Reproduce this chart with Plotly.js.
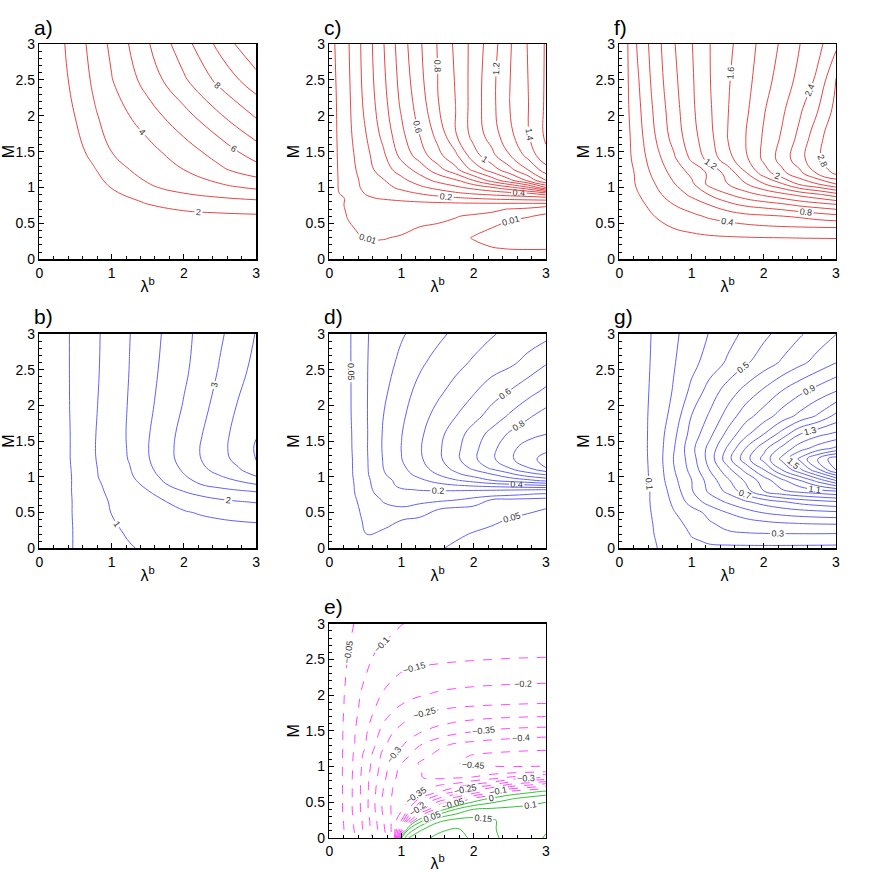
<!DOCTYPE html>
<html>
<head>
<meta charset="utf-8">
<script src="https://cdn.plot.ly/plotly-3.0.1.min.js"></script>
<style>
  html, body { margin: 0; padding: 0; background: #fff; }
  #graph { width: 872px; height: 872px; }
</style>
</head>
<body>
<div id="graph"></div>
<script>
// values, rows = M, columns = lambda^b

// a) red, 2..10
var lamA = [0, 0.25, 0.5, 0.75, 1, 1.5, 2, 2.5, 3];
var mA = [0, 0.25, 0.5, 0.65, 0.8, 1.0, 1.25, 1.5, 2, 2.5, 3];
var zA = [
  [0, 0, 0, 0, 0, 0, 0, 0, 0],
  [0, 0.12, 0.24, 0.34, 0.42, 0.55, 0.62, 0.66, 0.68],
  [0, 0.25, 0.5, 0.72, 0.9, 1.15, 1.3, 1.37, 1.4],
  [0, 0.33, 0.65, 0.95, 1.2, 1.6, 1.9, 2.02, 2.1],
  [0, 0.4, 0.8, 1.15, 1.5, 2.1, 2.45, 2.65, 2.8],
  [0, 0.55, 1.05, 1.55, 2.03, 2.85, 3.35, 3.75, 4.14],
  [0, 0.7, 1.3, 1.9, 2.6, 3.4, 4.0, 4.83, 5.6],
  [0.2, 0.9, 1.62, 2.33, 3.0, 3.67, 4.55, 5.45, 6.53],
  [0.43, 1.25, 2.03, 2.85, 3.45, 4.55, 5.65, 6.9, 8.1],
  [0.7, 1.5, 2.33, 3.15, 3.95, 5.4, 6.85, 8.3, 9.6],
  [0.8, 1.65, 2.5, 3.35, 4.2, 5.9, 7.6, 9.3, 11]
];

// b) blue, 0.5..4
var lamB = [0, 0.25, 0.5, 0.75, 1, 1.25, 1.5, 1.75, 2, 2.25, 2.5, 2.75, 3];
var mB = [0, 0.25, 0.5, 0.65, 0.8, 0.9, 1.0, 1.1, 1.25, 1.4, 1.6, 2.0, 2.5, 3.0];
var zB = [
  [0, 0.27, 0.54, 0.72, 0.85, 0.97, 1.06, 1.12, 1.16, 1.2, 1.22, 1.24, 1.25],
  [0, 0.27, 0.54, 0.75, 0.93, 1.06, 1.14, 1.2, 1.25, 1.29, 1.32, 1.34, 1.36],
  [0, 0.28, 0.55, 0.78, 1.01, 1.13, 1.24, 1.35, 1.46, 1.54, 1.6, 1.65, 1.68],
  [0, 0.28, 0.55, 0.82, 1.04, 1.2, 1.35, 1.49, 1.65, 1.78, 1.89, 1.97, 2.03],
  [0, 0.28, 0.56, 0.86, 1.1, 1.29, 1.48, 1.74, 2.01, 2.19, 2.33, 2.44, 2.53],
  [0, 0.28, 0.56, 0.89, 1.14, 1.34, 1.62, 1.99, 2.26, 2.53, 2.7, 2.85, 3.02],
  [0, 0.28, 0.56, 0.93, 1.19, 1.42, 1.77, 2.14, 2.45, 2.71, 2.95, 3.2, 3.47],
  [0, 0.28, 0.57, 0.94, 1.21, 1.47, 1.88, 2.24, 2.56, 2.88, 3.2, 3.44, 3.77],
  [0, 0.28, 0.59, 0.96, 1.25, 1.53, 1.96, 2.33, 2.67, 3.02, 3.32, 3.64, 4.03],
  [0, 0.28, 0.59, 0.97, 1.25, 1.55, 1.98, 2.34, 2.69, 3.04, 3.36, 3.68, 4.05],
  [0, 0.28, 0.59, 0.96, 1.26, 1.56, 1.96, 2.31, 2.66, 2.99, 3.32, 3.66, 3.97],
  [0, 0.29, 0.6, 0.93, 1.24, 1.54, 1.89, 2.21, 2.53, 2.86, 3.19, 3.53, 3.85],
  [0, 0.3, 0.6, 0.9, 1.21, 1.51, 1.82, 2.13, 2.41, 2.72, 3.04, 3.34, 3.65],
  [0, 0.3, 0.6, 0.89, 1.19, 1.49, 1.78, 2.07, 2.36, 2.65, 2.93, 3.22, 3.52]
];

// c), d), f), g) share this lambda grid
var lamFine = [0, 0.1, 0.25, 0.5, 0.75, 1, 1.25, 1.5, 1.75, 2, 2.25, 2.5, 2.75, 3];

// c) red, 0.01 and 0.1..1.5
var mC = [0, 0.15, 0.3, 0.45, 0.6, 0.7, 0.74, 0.78, 0.85, 0.92, 1.0, 1.1, 1.25, 1.45, 1.75, 2.2, 3.0];
var zC = [
  [0, 0, 0.001, 0.002, 0.002, 0.002, 0.002, 0.003, 0.003, 0.004, 0.005, 0.005, 0.005, 0.005],
  [0, 0.001, 0.003, 0.0055, 0.006, 0.0055, 0.005, 0.005, 0.006, 0.008, 0.0095, 0.0103, 0.0105, 0.0104],
  [0, 0.001, 0.005, 0.0105, 0.0108, 0.0085, 0.007, 0.0065, 0.0075, 0.0105, 0.013, 0.015, 0.016, 0.017],
  [0, 0.002, 0.008, 0.014, 0.016, 0.014, 0.0099, 0.008, 0.0068, 0.0075, 0.0097, 0.0125, 0.0145, 0.016],
  [0, 0.002, 0.0105, 0.02, 0.024, 0.023, 0.019, 0.014, 0.0106, 0.008, 0.0075, 0.0082, 0.0095, 0.0115],
  [0, 0.003, 0.012, 0.025, 0.03, 0.032, 0.03, 0.027, 0.022, 0.016, 0.012, 0.0095, 0.008, 0.007],
  [0, 0.003, 0.013, 0.03, 0.04, 0.045, 0.045, 0.042, 0.036, 0.03, 0.024, 0.018, 0.014, 0.0105],
  [0, 0.003, 0.013, 0.035, 0.055, 0.07, 0.08, 0.087, 0.092, 0.096, 0.098, 0.099, 0.0995, 0.101],
  [0, 0.002, 0.013, 0.085, 0.11, 0.13, 0.148, 0.164, 0.183, 0.201, 0.218, 0.232, 0.244, 0.255],
  [0, 0.003, 0.03, 0.105, 0.139, 0.171, 0.205, 0.243, 0.283, 0.314, 0.341, 0.367, 0.392, 0.47],
  [0, 0.004, 0.044, 0.122, 0.17, 0.22, 0.277, 0.329, 0.378, 0.43, 0.49, 0.571, 0.677, 0.9],
  [0, 0.004, 0.046, 0.131, 0.193, 0.271, 0.353, 0.426, 0.486, 0.602, 0.741, 0.875, 1.021, 1.201],
  [0, 0.005, 0.0505, 0.154, 0.252, 0.348, 0.439, 0.557, 0.673, 0.831, 0.95, 1.071, 1.202, 1.36],
  [0, 0.006, 0.059, 0.169, 0.283, 0.431, 0.546, 0.669, 0.781, 0.962, 1.074, 1.198, 1.333, 1.48],
  [0, 0.008, 0.0685, 0.195, 0.331, 0.478, 0.603, 0.733, 0.895, 1.04, 1.148, 1.278, 1.391, 1.52],
  [0, 0.0102, 0.074, 0.224, 0.367, 0.521, 0.648, 0.794, 0.902, 1.045, 1.172, 1.302, 1.396, 1.515],
  [0, 0.013, 0.085, 0.24, 0.395, 0.555, 0.685, 0.805, 0.92, 1.035, 1.155, 1.29, 1.405, 1.51]
];

// d) blue, 0.05 and 0.1..1
var mD = [0, 0.2, 0.4, 0.55, 0.68, 0.76, 0.82, 0.88, 0.95, 1.03, 1.12, 1.25, 1.4, 1.6, 1.85, 2.2, 2.6, 3.0];
var zD = [
  [0, 0.005, 0.012, 0.02, 0.025, 0.03, 0.037, 0.047, 0.055, 0.062, 0.068, 0.072, 0.075, 0.077],
  [0, 0.009, 0.022, 0.051, 0.045, 0.038, 0.035, 0.038, 0.045, 0.052, 0.058, 0.064, 0.068, 0.07],
  [0, 0.011, 0.03, 0.055, 0.06, 0.0505, 0.042, 0.036, 0.035, 0.038, 0.044, 0.052, 0.058, 0.062],
  [0, 0.012, 0.031, 0.06, 0.088, 0.095, 0.078, 0.051, 0.04, 0.036, 0.036, 0.039, 0.044, 0.0505],
  [0, 0.013, 0.033, 0.066, 0.105, 0.116, 0.117, 0.112, 0.103, 0.08, 0.048, 0.042, 0.038, 0.035],
  [0, 0.014, 0.034, 0.072, 0.125, 0.16, 0.17, 0.165, 0.155, 0.14, 0.13, 0.118, 0.105, 0.09],
  [0, 0.014, 0.035, 0.074, 0.14, 0.19, 0.205, 0.212, 0.213, 0.212, 0.21, 0.207, 0.203, 0.199],
  [0, 0.014, 0.035, 0.075, 0.152, 0.225, 0.25, 0.268, 0.293, 0.315, 0.335, 0.355, 0.377, 0.399],
  [0, 0.014, 0.036, 0.077, 0.16, 0.24, 0.278, 0.335, 0.39, 0.437, 0.498, 0.54, 0.575, 0.63],
  [0, 0.015, 0.037, 0.08, 0.19, 0.255, 0.329, 0.398, 0.476, 0.535, 0.589, 0.667, 0.75, 0.802],
  [0, 0.015, 0.037, 0.082, 0.2, 0.278, 0.358, 0.443, 0.531, 0.62, 0.716, 0.798, 0.89, 0.998],
  [0, 0.015, 0.037, 0.083, 0.206, 0.298, 0.383, 0.474, 0.575, 0.68, 0.78, 0.88, 0.97, 1.03],
  [0, 0.015, 0.038, 0.085, 0.211, 0.302, 0.39, 0.479, 0.572, 0.672, 0.772, 0.869, 0.95, 0.98],
  [0, 0.016, 0.039, 0.084, 0.209, 0.297, 0.38, 0.466, 0.554, 0.644, 0.733, 0.814, 0.862, 0.898],
  [0, 0.016, 0.04, 0.087, 0.2, 0.283, 0.36, 0.431, 0.498, 0.568, 0.639, 0.715, 0.786, 0.84],
  [0, 0.016, 0.04, 0.089, 0.18, 0.261, 0.326, 0.379, 0.433, 0.489, 0.556, 0.603, 0.662, 0.72],
  [0, 0.016, 0.04, 0.091, 0.157, 0.224, 0.283, 0.33, 0.371, 0.413, 0.445, 0.479, 0.53, 0.59],
  [0, 0.016, 0.04, 0.091, 0.141, 0.19, 0.235, 0.279, 0.319, 0.356, 0.393, 0.42, 0.445, 0.47]
];

// f) red, 0.2..2.8
var mF = [0, 0.15, 0.3, 0.45, 0.6, 0.75, 0.9, 1.05, 1.2, 1.4, 1.7, 2.1, 2.5, 3.0];
var zF = [
  [0, 0, 0, 0, 0, 0, 0, 0, 0, 0, 0, 0, 0, 0],
  [0, 0.01, 0.025, 0.045, 0.06, 0.072, 0.08, 0.086, 0.09, 0.093, 0.095, 0.097, 0.098, 0.1],
  [0, 0.02, 0.05, 0.095, 0.13, 0.155, 0.173, 0.183, 0.19, 0.196, 0.199, 0.203, 0.205, 0.207],
  [0, 0.03, 0.075, 0.145, 0.21, 0.25, 0.29, 0.32, 0.35, 0.375, 0.39, 0.399, 0.405, 0.41],
  [0, 0.04, 0.1, 0.204, 0.26, 0.352, 0.43, 0.484, 0.538, 0.565, 0.593, 0.63, 0.69, 0.74],
  [0, 0.057, 0.143, 0.261, 0.39, 0.49, 0.592, 0.713, 0.818, 0.87, 0.93, 1.02, 1.08, 1.14],
  [0, 0.07, 0.182, 0.345, 0.495, 0.635, 0.806, 0.979, 1.113, 1.23, 1.335, 1.45, 1.56, 1.7],
  [0, 0.09, 0.228, 0.402, 0.585, 0.753, 1.066, 1.198, 1.386, 1.587, 1.78, 2.04, 2.198, 2.402],
  [0, 0.105, 0.24, 0.464, 0.659, 0.844, 1.04, 1.27, 1.58, 1.89, 2.14, 2.35, 2.63, 2.84],
  [0, 0.133, 0.283, 0.522, 0.757, 1.033, 1.274, 1.523, 1.76, 2.044, 2.28, 2.527, 2.77, 2.93],
  [0, 0.143, 0.31, 0.598, 0.87, 1.12, 1.342, 1.602, 1.798, 2.024, 2.224, 2.459, 2.737, 2.95],
  [0, 0.16, 0.343, 0.647, 0.914, 1.16, 1.375, 1.591, 1.76, 1.981, 2.158, 2.365, 2.59, 2.86],
  [0, 0.167, 0.373, 0.686, 0.948, 1.173, 1.391, 1.578, 1.733, 1.917, 2.094, 2.257, 2.444, 2.81],
  [0, 0.17, 0.417, 0.713, 0.98, 1.19, 1.395, 1.55, 1.71, 1.867, 2.033, 2.198, 2.343, 2.55]
];

// g) blue, 0.1..2.0
var mG = [0, 0.1, 0.2, 0.35, 0.5, 0.65, 0.8, 0.95, 1.1, 1.25, 1.4, 1.6, 1.85, 2.2, 2.6, 3.0];
var zG = [
  [0, 0.018, 0.045, 0.095, 0.14, 0.18, 0.19, 0.19, 0.19, 0.19, 0.19, 0.19, 0.19, 0.19],
  [0, 0.019, 0.048, 0.099, 0.15, 0.192, 0.207, 0.212, 0.214, 0.215, 0.215, 0.214, 0.213, 0.212],
  [0, 0.02, 0.051, 0.104, 0.155, 0.205, 0.24, 0.285, 0.292, 0.295, 0.296, 0.297, 0.297, 0.295],
  [0, 0.021, 0.054, 0.108, 0.17, 0.227, 0.29, 0.33, 0.355, 0.375, 0.393, 0.402, 0.407, 0.41],
  [0, 0.022, 0.056, 0.114, 0.193, 0.257, 0.329, 0.402, 0.456, 0.505, 0.532, 0.553, 0.568, 0.58],
  [0, 0.022, 0.056, 0.119, 0.217, 0.34, 0.44, 0.514, 0.586, 0.64, 0.69, 0.733, 0.765, 0.79],
  [0, 0.022, 0.056, 0.12, 0.24, 0.39, 0.52, 0.625, 0.76, 0.898, 0.983, 1.03, 1.064, 1.098],
  [0, 0.023, 0.057, 0.125, 0.27, 0.398, 0.544, 0.683, 0.816, 0.95, 1.075, 1.198, 1.34, 1.502],
  [0, 0.023, 0.058, 0.128, 0.29, 0.433, 0.602, 0.767, 0.933, 1.098, 1.302, 1.477, 1.683, 1.91],
  [0, 0.024, 0.06, 0.13, 0.302, 0.45, 0.642, 0.86, 1.058, 1.233, 1.424, 1.623, 1.814, 1.97],
  [0, 0.024, 0.06, 0.132, 0.289, 0.47, 0.633, 0.815, 1.002, 1.167, 1.326, 1.455, 1.545, 1.62],
  [0, 0.024, 0.06, 0.131, 0.27, 0.437, 0.572, 0.729, 0.872, 0.998, 1.138, 1.298, 1.371, 1.42],
  [0, 0.024, 0.06, 0.129, 0.235, 0.402, 0.514, 0.64, 0.761, 0.85, 0.946, 1.03, 1.115, 1.23],
  [0, 0.023, 0.058, 0.124, 0.207, 0.323, 0.443, 0.546, 0.634, 0.717, 0.802, 0.876, 0.94, 0.998],
  [0, 0.023, 0.057, 0.118, 0.191, 0.269, 0.343, 0.414, 0.486, 0.55, 0.612, 0.675, 0.737, 0.798],
  [0, 0.022, 0.056, 0.114, 0.18, 0.244, 0.305, 0.364, 0.422, 0.478, 0.533, 0.589, 0.644, 0.698]
];

// e) magenta dashed negatives, green positives
var lamE = [0, 0.1, 0.25, 0.5, 0.75, 0.9, 1.0, 1.1, 1.25, 1.5, 1.75, 2, 2.25, 2.5, 2.75, 3];
var mE = [0, 0.12, 0.25, 0.4, 0.55, 0.65, 0.75, 0.85, 0.95, 1.05, 1.15, 1.3, 1.45, 1.6, 1.8, 2.0, 2.3, 2.6, 3.0];
var zE = [
  [0, -0.022, -0.058, -0.15, -0.275, -0.37, 0.052, 0.152, 0.185, 0.21, 0.21, 0.195, 0.16, 0.135, 0.127, 0.155],
  [0, -0.023, -0.062, -0.165, -0.29, -0.375, -0.148, 0.052, 0.14, 0.19, 0.205, 0.185, 0.155, 0.135, 0.135, 0.145],
  [0, -0.024, -0.065, -0.17, -0.298, -0.37, -0.302, -0.13, 0.02, 0.135, 0.162, 0.165, 0.153, 0.14, 0.135, 0.135],
  [0, -0.025, -0.07, -0.18, -0.31, -0.368, -0.36, -0.298, -0.17, -0.035, 0.052, 0.102, 0.11, 0.115, 0.118, 0.12],
  [0, -0.025, -0.07, -0.18, -0.31, -0.365, -0.37, -0.36, -0.298, -0.198, -0.125, -0.04, 0.012, 0.045, 0.07, 0.09],
  [0, -0.025, -0.07, -0.18, -0.303, -0.36, -0.365, -0.362, -0.357, -0.31, -0.248, -0.187, -0.117, -0.043, -0.017, 0.01],
  [0, -0.025, -0.07, -0.18, -0.295, -0.355, -0.37, -0.375, -0.37, -0.358, -0.34, -0.298, -0.267, -0.198, -0.165, -0.133],
  [0, -0.026, -0.071, -0.177, -0.287, -0.343, -0.37, -0.386, -0.398, -0.41, -0.407, -0.398, -0.375, -0.346, -0.322, -0.302],
  [0, -0.026, -0.07, -0.173, -0.279, -0.336, -0.365, -0.384, -0.398, -0.415, -0.425, -0.432, -0.435, -0.436, -0.434, -0.43],
  [0, -0.026, -0.07, -0.169, -0.271, -0.325, -0.348, -0.373, -0.404, -0.427, -0.448, -0.458, -0.462, -0.464, -0.465, -0.465],
  [0, -0.026, -0.069, -0.166, -0.266, -0.306, -0.327, -0.348, -0.38, -0.415, -0.438, -0.454, -0.459, -0.462, -0.464, -0.465],
  [0, -0.026, -0.068, -0.148, -0.243, -0.274, -0.294, -0.317, -0.348, -0.386, -0.41, -0.42, -0.427, -0.431, -0.434, -0.436],
  [0, -0.026, -0.067, -0.144, -0.222, -0.259, -0.272, -0.286, -0.304, -0.329, -0.352, -0.362, -0.372, -0.379, -0.385, -0.388],
  [0, -0.026, -0.066, -0.135, -0.202, -0.23, -0.248, -0.262, -0.276, -0.292, -0.306, -0.315, -0.322, -0.327, -0.33, -0.332],
  [0, -0.025, -0.062, -0.124, -0.175, -0.198, -0.212, -0.225, -0.237, -0.248, -0.256, -0.26, -0.263, -0.265, -0.267, -0.268],
  [0, -0.024, -0.06, -0.116, -0.156, -0.169, -0.177, -0.185, -0.196, -0.207, -0.213, -0.217, -0.22, -0.222, -0.224, -0.225],
  [0, -0.021, -0.054, -0.098, -0.128, -0.145, -0.152, -0.157, -0.162, -0.167, -0.171, -0.174, -0.176, -0.178, -0.179, -0.18],
  [0, -0.019, -0.048, -0.088, -0.11, -0.117, -0.121, -0.124, -0.127, -0.13, -0.133, -0.135, -0.137, -0.139, -0.14, -0.141],
  [0, -0.017, -0.042, -0.064, -0.081, -0.092, -0.099, -0.102, -0.106, -0.11, -0.113, -0.116, -0.118, -0.12, -0.123, -0.125]
];

var panelNames = ['a)', 'b)', 'c)', 'd)', 'e)', 'f)', 'g)'];

var RED = '#e44646', BLUE = '#6262f2', PINK = '#ff44ff', GREEN = '#35c035';
var FONT = 'Liberation Sans, Arial, Helvetica, sans-serif';

function contour(x, y, z, ax, start, end, size, color, labels, dash) {
  return {
    type: 'contour', x: x, y: y, z: z,
    xaxis: 'x' + ax, yaxis: 'y' + ax,
    autocontour: false,
    contours: {
      coloring: 'none', start: start, end: end, size: size,
      showlabels: labels,
      labelfont: {family: FONT, size: 9, color: '#333'},
      labelformat: '.3~g'
    },
    line: {color: color, width: 1, smoothing: 1.2, dash: dash || 'solid'},
    showscale: false, hoverinfo: 'skip'
  };
}

var data = [
  // a
  contour(lamA, mA, zA, '', 2, 10.01, 2, RED, true),
  contour(lamA, mA, zA, '', 3, 9.01, 2, RED, false),
  // b
  contour(lamB, mB, zB, '2', 1, 4.01, 1, BLUE, true),
  contour(lamB, mB, zB, '2', 0.5, 3.51, 1, BLUE, false),
  // c
  contour(lamFine, mC, zC, '3', 0.01, 0.011, 0.1, RED, true),
  contour(lamFine, mC, zC, '3', 0.2, 1.41, 0.2, RED, true),
  contour(lamFine, mC, zC, '3', 0.1, 1.51, 0.2, RED, false),
  // d
  contour(lamFine, mD, zD, '4', 0.05, 0.051, 0.1, BLUE, true),
  contour(lamFine, mD, zD, '4', 0.2, 1.01, 0.2, BLUE, true),
  contour(lamFine, mD, zD, '4', 0.1, 0.91, 0.2, BLUE, false),
  // e
  contour(lamE, mE, zE, '5', -0.45, -0.049, 0.05, PINK, true, 'dash'),
  contour(lamE, mE, zE, '5', 0, 0.201, 0.05, GREEN, true),
  // f
  contour(lamFine, mF, zF, '6', 0.4, 2.81, 0.4, RED, true),
  contour(lamFine, mF, zF, '6', 0.2, 2.61, 0.4, RED, false),
  // g
  contour(lamFine, mG, zG, '7', 0.1, 1.91, 0.2, BLUE, true),
  contour(lamFine, mG, zG, '7', 0.2, 2.01, 0.2, BLUE, false)
];

// plot areas in paper fractions: [column, row] for a..g
var colDom = [[0.0451, 0.2936], [0.3776, 0.6261], [0.7102, 0.9587]];
var rowDom = [[0.7026, 0.9495], [0.3712, 0.6170], [0.0390, 0.2847]];
var place = [[0, 0], [0, 1], [1, 0], [1, 1], [1, 2], [2, 0], [2, 1]];

var layout = {
  width: 872, height: 872,
  margin: {l: 0, r: 0, t: 0, b: 0},
  paper_bgcolor: '#fff', plot_bgcolor: '#fff',
  showlegend: false,
  font: {family: FONT, color: '#000'},
  annotations: []
};

for (var i = 0; i < 7; i++) {
  var n = i === 0 ? '' : String(i + 1);
  var cd = colDom[place[i][0]], rd = rowDom[place[i][1]];
  var common = {
    range: [0, 3], ticks: 'inside', ticklen: 5, tickwidth: 1, tickcolor: '#000',
    showline: true, linecolor: '#000', linewidth: 1.5, mirror: true,
    showgrid: false, zeroline: false, fixedrange: true,
    tickfont: {family: FONT, size: 14}
  };
  layout['xaxis' + n] = Object.assign({}, common, {
    domain: cd, anchor: 'y' + n, tick0: 0, dtick: 1,
    minor: {dtick: 0.2, ticks: 'inside', ticklen: 3, tickcolor: '#000', showgrid: false},
    title: {text: 'λ<sup>b</sup>', font: {family: FONT, size: 16}, standoff: 1}
  });
  layout['yaxis' + n] = Object.assign({}, common, {
    domain: rd, anchor: 'x' + n, tick0: 0, dtick: 0.5,
    minor: {dtick: 0.1, ticks: 'inside', ticklen: 3, tickcolor: '#000', showgrid: false},
    title: {text: 'M', font: {family: FONT, size: 16}, standoff: 2}
  });
  layout.annotations.push({
    text: panelNames[i], xref: 'paper', yref: 'paper',
    x: cd[0] - 0.0085, y: rd[1] + 0.0195, xanchor: 'left', yanchor: 'middle',
    showarrow: false, font: {family: FONT, size: 21, color: '#000'}
  });
}

Plotly.newPlot('graph', data, layout, {staticPlot: true, displayModeBar: false});
</script>
</body>
</html>
